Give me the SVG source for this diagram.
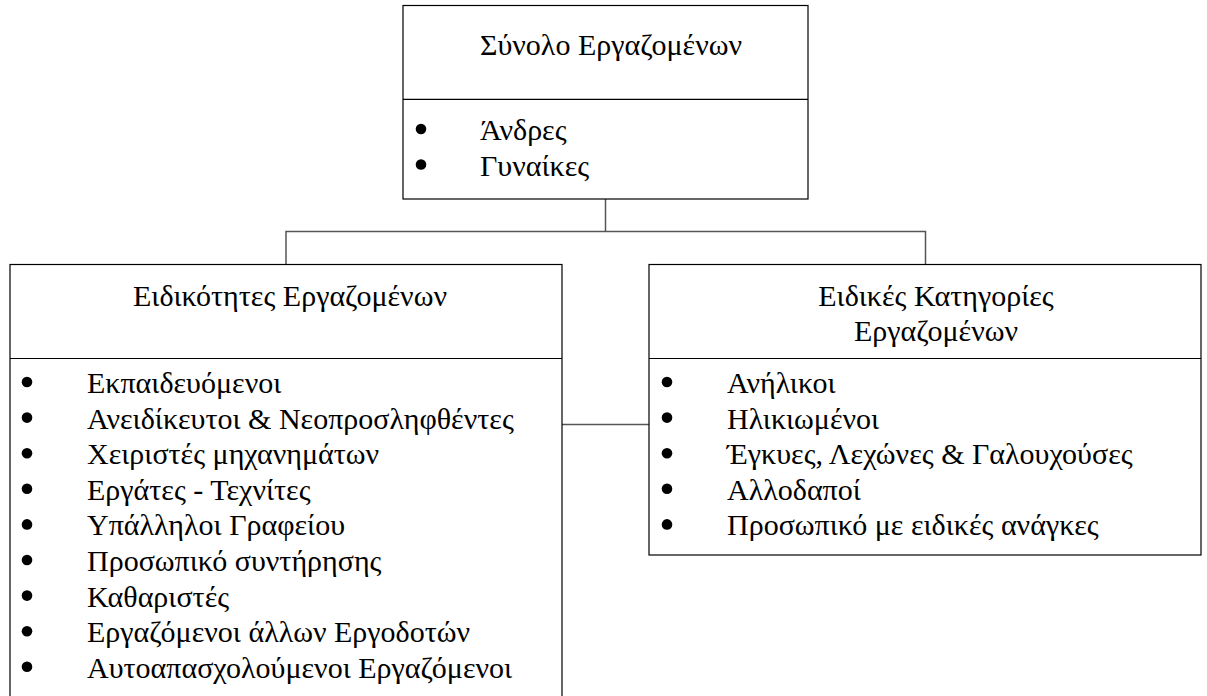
<svg xmlns="http://www.w3.org/2000/svg" width="1207" height="696" viewBox="0 0 1207 696">
<style>
.box{fill:#fff;stroke:#000;stroke-width:1.2}
.div{stroke:#000;stroke-width:1.2}
.conn{fill:none;stroke:#555;stroke-width:1.5}
.t{font-family:"Liberation Serif","Times New Roman",serif;font-size:30px;fill:#000}
.c{text-anchor:middle}
.b{fill:#000}
</style>
<g id="connectors">
<path class="conn" d="M605.5 199 V231.5"/>
<path class="conn" d="M286 264.5 V231.5 H925.5 V264.5"/>
<path class="conn" d="M562 424.5 H649"/>
</g>
<g id="node-total">
<rect class="box" x="403" y="5.5" width="405" height="193.5"/>
<line class="div" x1="403" y1="99.3" x2="808" y2="99.3"/>
<text class="t c" x="611" y="55">Σύνολο Εργαζομένων</text>
<circle class="b" cx="421" cy="129" r="5.3"/>
<text class="t" x="480" y="140">Άνδρες</text>
<circle class="b" cx="421" cy="164.5" r="5.3"/>
<text class="t" x="480" y="175.7">Γυναίκες</text>
</g>
<g id="node-specialties">
<rect class="box" x="10" y="264.5" width="552" height="450"/>
<line class="div" x1="10" y1="358.5" x2="562" y2="358.5"/>
<text class="t c" x="290" y="306">Ειδικότητες Εργαζομένων</text>
<g>
<circle class="b" cx="27" cy="382" r="5.3"/><text class="t" x="87" y="393">Εκπαιδευόμενοι</text>
<circle class="b" cx="27" cy="417.6" r="5.3"/><text class="t" x="87" y="428.6">Ανειδίκευτοι &amp; Νεοπροσληφθέντες</text>
<circle class="b" cx="27" cy="453.2" r="5.3"/><text class="t" x="87" y="464.2">Χειριστές μηχανημάτων</text>
<circle class="b" cx="27" cy="488.8" r="5.3"/><text class="t" x="87" y="499.8">Εργάτες - Τεχνίτες</text>
<circle class="b" cx="27" cy="524.4" r="5.3"/><text class="t" x="87" y="535.4">Υπάλληλοι Γραφείου</text>
<circle class="b" cx="27" cy="560" r="5.3"/><text class="t" x="87" y="571">Προσωπικό συντήρησης</text>
<circle class="b" cx="27" cy="595.6" r="5.3"/><text class="t" x="87" y="606.6">Καθαριστές</text>
<circle class="b" cx="27" cy="631.2" r="5.3"/><text class="t" x="87" y="642.2">Εργαζόμενοι άλλων Εργοδοτών</text>
<circle class="b" cx="27" cy="666.8" r="5.3"/><text class="t" x="87" y="677.8">Αυτοαπασχολούμενοι Εργαζόμενοι</text>
</g>
</g>
<g id="node-categories">
<rect class="box" x="649" y="264.5" width="552" height="290.5"/>
<line class="div" x1="649" y1="358.5" x2="1201" y2="358.5"/>
<text class="t c" x="936" y="306">Ειδικές Κατηγορίες</text>
<text class="t c" x="936" y="341">Εργαζομένων</text>
<circle class="b" cx="667" cy="382" r="5.3"/><text class="t" x="727" y="393">Ανήλικοι</text>
<circle class="b" cx="667" cy="417.6" r="5.3"/><text class="t" x="727" y="428.6">Ηλικιωμένοι</text>
<circle class="b" cx="667" cy="453.2" r="5.3"/><text class="t" x="727" y="464.2">Έγκυες, Λεχώνες &amp; Γαλουχούσες</text>
<circle class="b" cx="667" cy="488.8" r="5.3"/><text class="t" x="727" y="499.8">Αλλοδαποί</text>
<circle class="b" cx="667" cy="524.4" r="5.3"/><text class="t" x="727" y="535.4">Προσωπικό με ειδικές ανάγκες</text>
</g>
</svg>
